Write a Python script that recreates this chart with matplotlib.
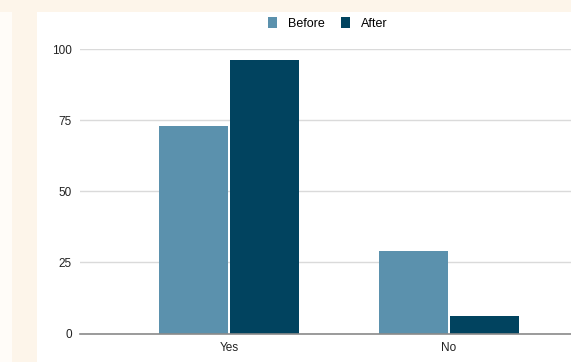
import matplotlib
matplotlib.use("Agg")
import matplotlib.pyplot as plt
from matplotlib.patches import Rectangle
import numpy as np

categories = ["Yes", "No"]
before = [73, 29]
after = [96, 6]
yticks = [0, 25, 50, 75, 100]
series_names = ["Before", "After"]
colors = ["#5B91AD", "#01435F"]

plt.rcParams['font.family'] = ['Liberation Sans', 'DejaVu Sans']

W, H = 571, 362
fig = plt.figure(figsize=(W / 100, H / 100), dpi=100)
fig.patch.set_facecolor("#FDF5EA")
# light strip at left and white chart card
fig.patches.append(Rectangle((0, 0), 12 / W, 1 - 12 / H, transform=fig.transFigure,
                             facecolor="#FFFCF8", edgecolor="none", zorder=-5))
fig.patches.append(Rectangle((37 / W, 0), 1 - 37 / W, 1 - 12 / H, transform=fig.transFigure,
                             facecolor="white", edgecolor="none", zorder=-5))

ax = fig.add_axes([80 / W, 28.5 / H, 1 - 80 / W, (333.5 - 49) / H])
ax.set_facecolor("none")

x = np.arange(len(categories))
bw = 0.312
gap = 0.005
ax.bar(x - bw / 2 - gap, before, width=bw, color=colors[0], label=series_names[0], zorder=3)
ax.bar(x + bw / 2 + gap, after, width=bw, color=colors[1], label=series_names[1], zorder=3)

ax.set_xlim(-0.677, 1.555)
ax.set_ylim(0, 100)
ax.set_yticks(yticks)
ax.set_yticklabels([str(v) for v in yticks], fontsize=8.5, color="#222222")
ax.set_xticks(x)
ax.set_xticklabels(categories, fontsize=8.5, color="#222222")
ax.tick_params(axis="both", length=0)
ax.tick_params(axis="y", pad=6)
ax.tick_params(axis="x", pad=6)
ax.grid(axis="y", color="#DADADA", linewidth=1, zorder=0)
for s in ["top", "right", "left"]:
    ax.spines[s].set_visible(False)
ax.spines["bottom"].set_color("#8A8A8A")
ax.spines["bottom"].set_linewidth(1.2)
ax.spines["bottom"].set_zorder(4)

leg = ax.legend(loc="upper center", bbox_to_anchor=(0.5 + (328 - (80 + 491 / 2)) / 491, 1 + 37 / 284.5),
                ncol=2, frameon=False, fontsize=9, handlelength=0.7, handleheight=0.95,
                handletextpad=0.9, columnspacing=1.3, borderaxespad=0)

fig.savefig("out.png", dpi=100)
